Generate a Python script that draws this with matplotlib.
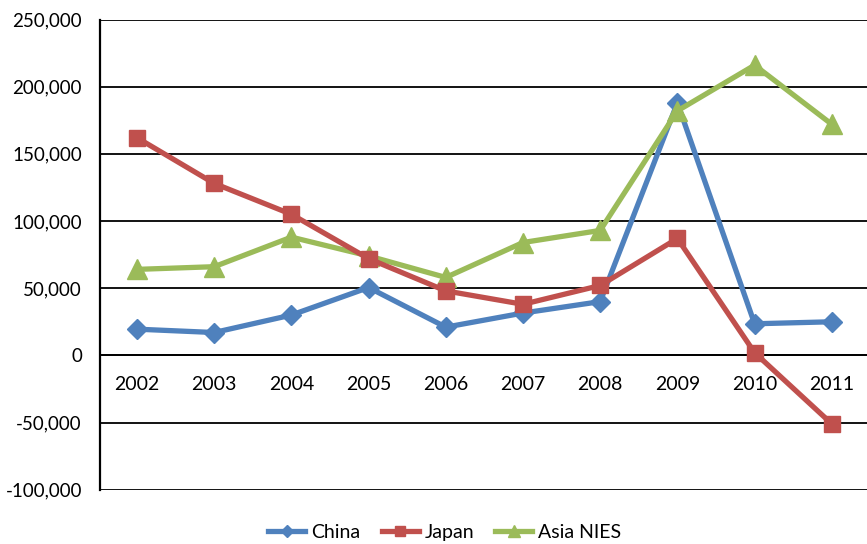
import matplotlib
matplotlib.use("Agg")
import matplotlib.pyplot as plt
from matplotlib.ticker import FuncFormatter

years = ["2002", "2003", "2004", "2005", "2006", "2007", "2008", "2009", "2010", "2011"]
china = [19500, 17000, 30000, 50500, 21000, 31500, 40000, 188000, 23500, 25000]
japan = [162000, 128000, 105000, 72000, 48000, 38000, 52000, 87000, 2000, -51000]
asia_nies = [64000, 66000, 88000, 74000, 58000, 84000, 93000, 182000, 216000, 172000]

plt.rcParams['font.family'] = ['Lato', 'DejaVu Sans']

fig = plt.figure(figsize=(8.67, 5.44), dpi=100)
ax = fig.add_axes([100 / 867, (544 - 489.7) / 544, 767 / 867, 470.2 / 544])

x = list(range(len(years)))
ax.plot(x, china, color='#4F81BD', lw=3.8, marker='D', ms=10, label='China', zorder=3)
ax.plot(x, japan, color='#C0504D', lw=3.8, marker='s', ms=12, label='Japan', zorder=4)
ax.plot(x, asia_nies, color='#9BBB59', lw=3.8, marker='^', ms=14, label='Asia NIES', zorder=3)

ax.set_ylim(-100000, 250000)
ax.set_xlim(-0.479, 9.456)
ax.set_yticks(range(-100000, 250001, 50000))
ax.yaxis.set_major_formatter(FuncFormatter(lambda v, p: f"{int(v):,}"))
ax.grid(axis='y', color='black', lw=1.3)
ax.set_axisbelow(True)

ax.spines['top'].set_visible(False)
ax.spines['right'].set_visible(False)
ax.spines['bottom'].set_position(('data', 0))
ax.spines['bottom'].set_linewidth(1.3)
ax.spines['left'].set_linewidth(1.6)

ax.set_xticks(x)
ax.set_xticklabels(years)
ax.tick_params(axis='x', length=0, pad=15, labelsize=14)
ax.tick_params(axis='y', length=0, pad=13, labelsize=13.5)

fig.legend(loc='center', bbox_to_anchor=(0.513, 0.022), ncol=3, frameon=False,
           fontsize=14, handlelength=1.9, columnspacing=1.1, handletextpad=0.3,
           markerscale=0.6)

fig.savefig('out.png', dpi=100)
